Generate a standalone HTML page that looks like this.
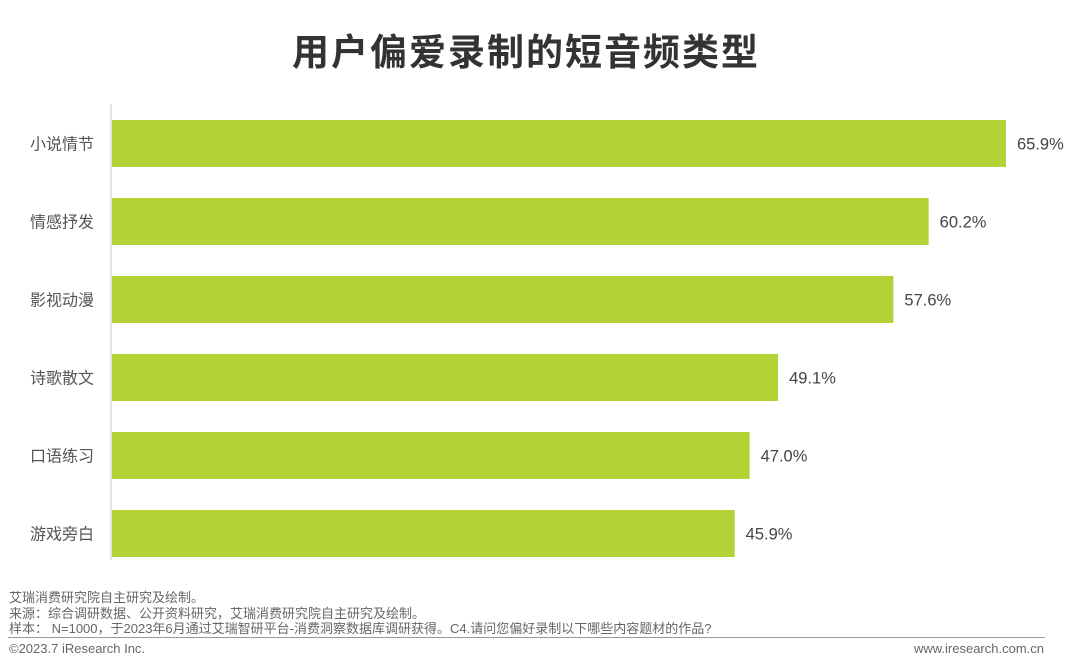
<!DOCTYPE html>
<html><head><meta charset="utf-8"><style>
body{margin:0;width:1080px;height:664px;background:#fff;position:relative;overflow:hidden;font-family:"Liberation Sans","Noto Sans CJK SC",sans-serif;}
#title{position:absolute;left:-14px;width:1080px;top:22px;text-align:center;font-size:37px;font-weight:bold;color:#333;letter-spacing:2px;}
.foot{position:absolute;left:9px;font-size:13px;line-height:14px;color:#666;white-space:nowrap;}
</style></head><body>
<div id="title">用户偏爱录制的短音频类型</div>
<svg id="chart" width="1080" height="590" style="position:absolute;left:0;top:0"></svg>
<div class="foot" style="top:591px">艾瑞消费研究院自主研究及绘制。</div>
<div class="foot" style="top:607px">来源：综合调研数据、公开资料研究，艾瑞消费研究院自主研究及绘制。</div>
<div class="foot" style="top:622px">样本： N=1000，于2023年6月通过艾瑞智研平台-消费洞察数据库调研获得。C4.请问您偏好录制以下哪些内容题材的作品?</div>
<div style="position:absolute;left:8px;top:637px;width:1037px;height:1px;background:#999"></div>
<div class="foot" style="top:642px">©2023.7 iResearch Inc.</div>
<div class="foot" style="top:642px;left:auto;right:36px">www.iresearch.com.cn</div>
<script>
const categories=["小说情节","情感抒发","影视动漫","诗歌散文","口语练习","游戏旁白"];
const values=[65.9,60.2,57.6,49.1,47.0,45.9];
const valueLabels=["65.9%","60.2%","57.6%","49.1%","47.0%","45.9%"];
const svg=document.getElementById('chart');
const NS='http://www.w3.org/2000/svg';
const x0=112, pxPer=(1006-112)/65.9;
const xScale=v=>x0+v*pxPer;
const yScale=i=>120+i*78;
const bh=47;
const ax=document.createElementNS(NS,'line');
ax.setAttribute('x1',111);ax.setAttribute('x2',111);ax.setAttribute('y1',104);ax.setAttribute('y2',560);
ax.setAttribute('stroke','#d9d9d9');ax.setAttribute('stroke-width','1.5');


svg.appendChild(ax);
categories.forEach((c,i)=>{
  const y=yScale(i);
  const r=document.createElementNS(NS,'rect');
  r.setAttribute('x',x0);r.setAttribute('y',y);r.setAttribute('width',xScale(values[i])-x0);r.setAttribute('height',bh);
  r.setAttribute('fill','#b2d235');
  
  
  svg.appendChild(r);
  const t=document.createElementNS(NS,'text');
  t.setAttribute('x',94);t.setAttribute('y',y+bh/2+6);t.setAttribute('text-anchor','end');
  t.setAttribute('font-size','16');t.setAttribute('fill','#555');t.textContent=c;
  
  
  svg.appendChild(t);
  const v=document.createElementNS(NS,'text');
  v.setAttribute('x',xScale(values[i])+11);v.setAttribute('y',y+bh/2+6);
  v.setAttribute('font-size','16.5');v.setAttribute('fill','#444');v.textContent=valueLabels[i];
  
  
  svg.appendChild(v);
});
</script>
</body></html>
